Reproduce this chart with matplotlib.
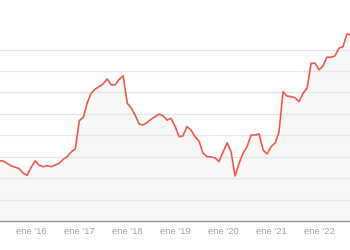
import numpy as np
import pandas as pd
import matplotlib
matplotlib.use('Agg')
import matplotlib.pyplot as plt
import matplotlib.dates as mdates

# monthly series, may 2015 - sep 2022
start = '2015-05-01'
values = [28.1, 28.0, 26.9, 25.7, 25.1, 24.4, 22.3, 21.3,
          25.2, 28.1, 26.0, 25.3, 25.8, 25.3, 26.1, 26.9, 28.8, 30.0, 32.3, 33.6,
          46.8, 48.4, 54.9, 59.6, 61.5, 62.7, 63.9, 66.3, 63.5, 63.5, 66.1, 67.7,
          54.9, 52.6, 49.5, 45.3, 44.8, 45.9, 47.5, 48.7, 49.9, 49.0, 47.1, 47.9,
          44.0, 39.3, 39.7, 44.0, 42.5, 39.3, 37.3, 31.7, 30.0, 29.9, 29.4, 27.7,
          32.3, 36.5, 32.3, 21.0, 26.9, 31.6, 34.7, 40.1, 40.1, 40.6, 33.1, 31.3,
          34.7, 36.5, 41.5, 60.3, 58.3, 58.0, 57.5, 55.7, 59.6, 61.9, 73.6, 73.6,
          70.5, 72.5, 76.4, 76.4, 77.0, 80.6, 81.3, 87.3, 86.8]
years = [2016, 2017, 2018, 2019, 2020, 2021, 2022]
tick_labels = ["ene '%d" % (y % 100) for y in years]
grid_vals = [10, 20, 30, 40, 50, 60, 70, 80]

dates = pd.date_range(start, periods=len(values), freq='MS')

fig = plt.figure(figsize=(3.5, 2.5), dpi=100)
ax = fig.add_axes([0, 0.116, 1, 0.884])

ax.fill_between(dates, values, 0, color='#f7f7f7', lw=0, zorder=1)
ax.plot(dates, values, color='#f25a4f', lw=1.2, zorder=3)

ax.set_ylim(0, 103.1)
ax.set_xlim(pd.Timestamp('2015-05-08'), pd.Timestamp('2022-08-24'))
ax.set_yticks(grid_vals)
ax.yaxis.grid(True, color='#e6e6e6', lw=0.9, zorder=2)
ax.set_axisbelow(False)
ax.tick_params(axis='y', left=False, labelleft=False)

ax.set_xticks([pd.Timestamp('%d-01-01' % y) for y in years])
ax.set_xticklabels(tick_labels, fontsize=6.8, color='#a0a0a0', family='Liberation Sans')
ax.tick_params(axis='x', length=0, pad=4)

for s in ['top', 'left', 'right']:
    ax.spines[s].set_visible(False)
ax.spines['bottom'].set_color('#8c8c8c')
ax.spines['bottom'].set_linewidth(0.9)

fig.savefig('out.png', dpi=100)
